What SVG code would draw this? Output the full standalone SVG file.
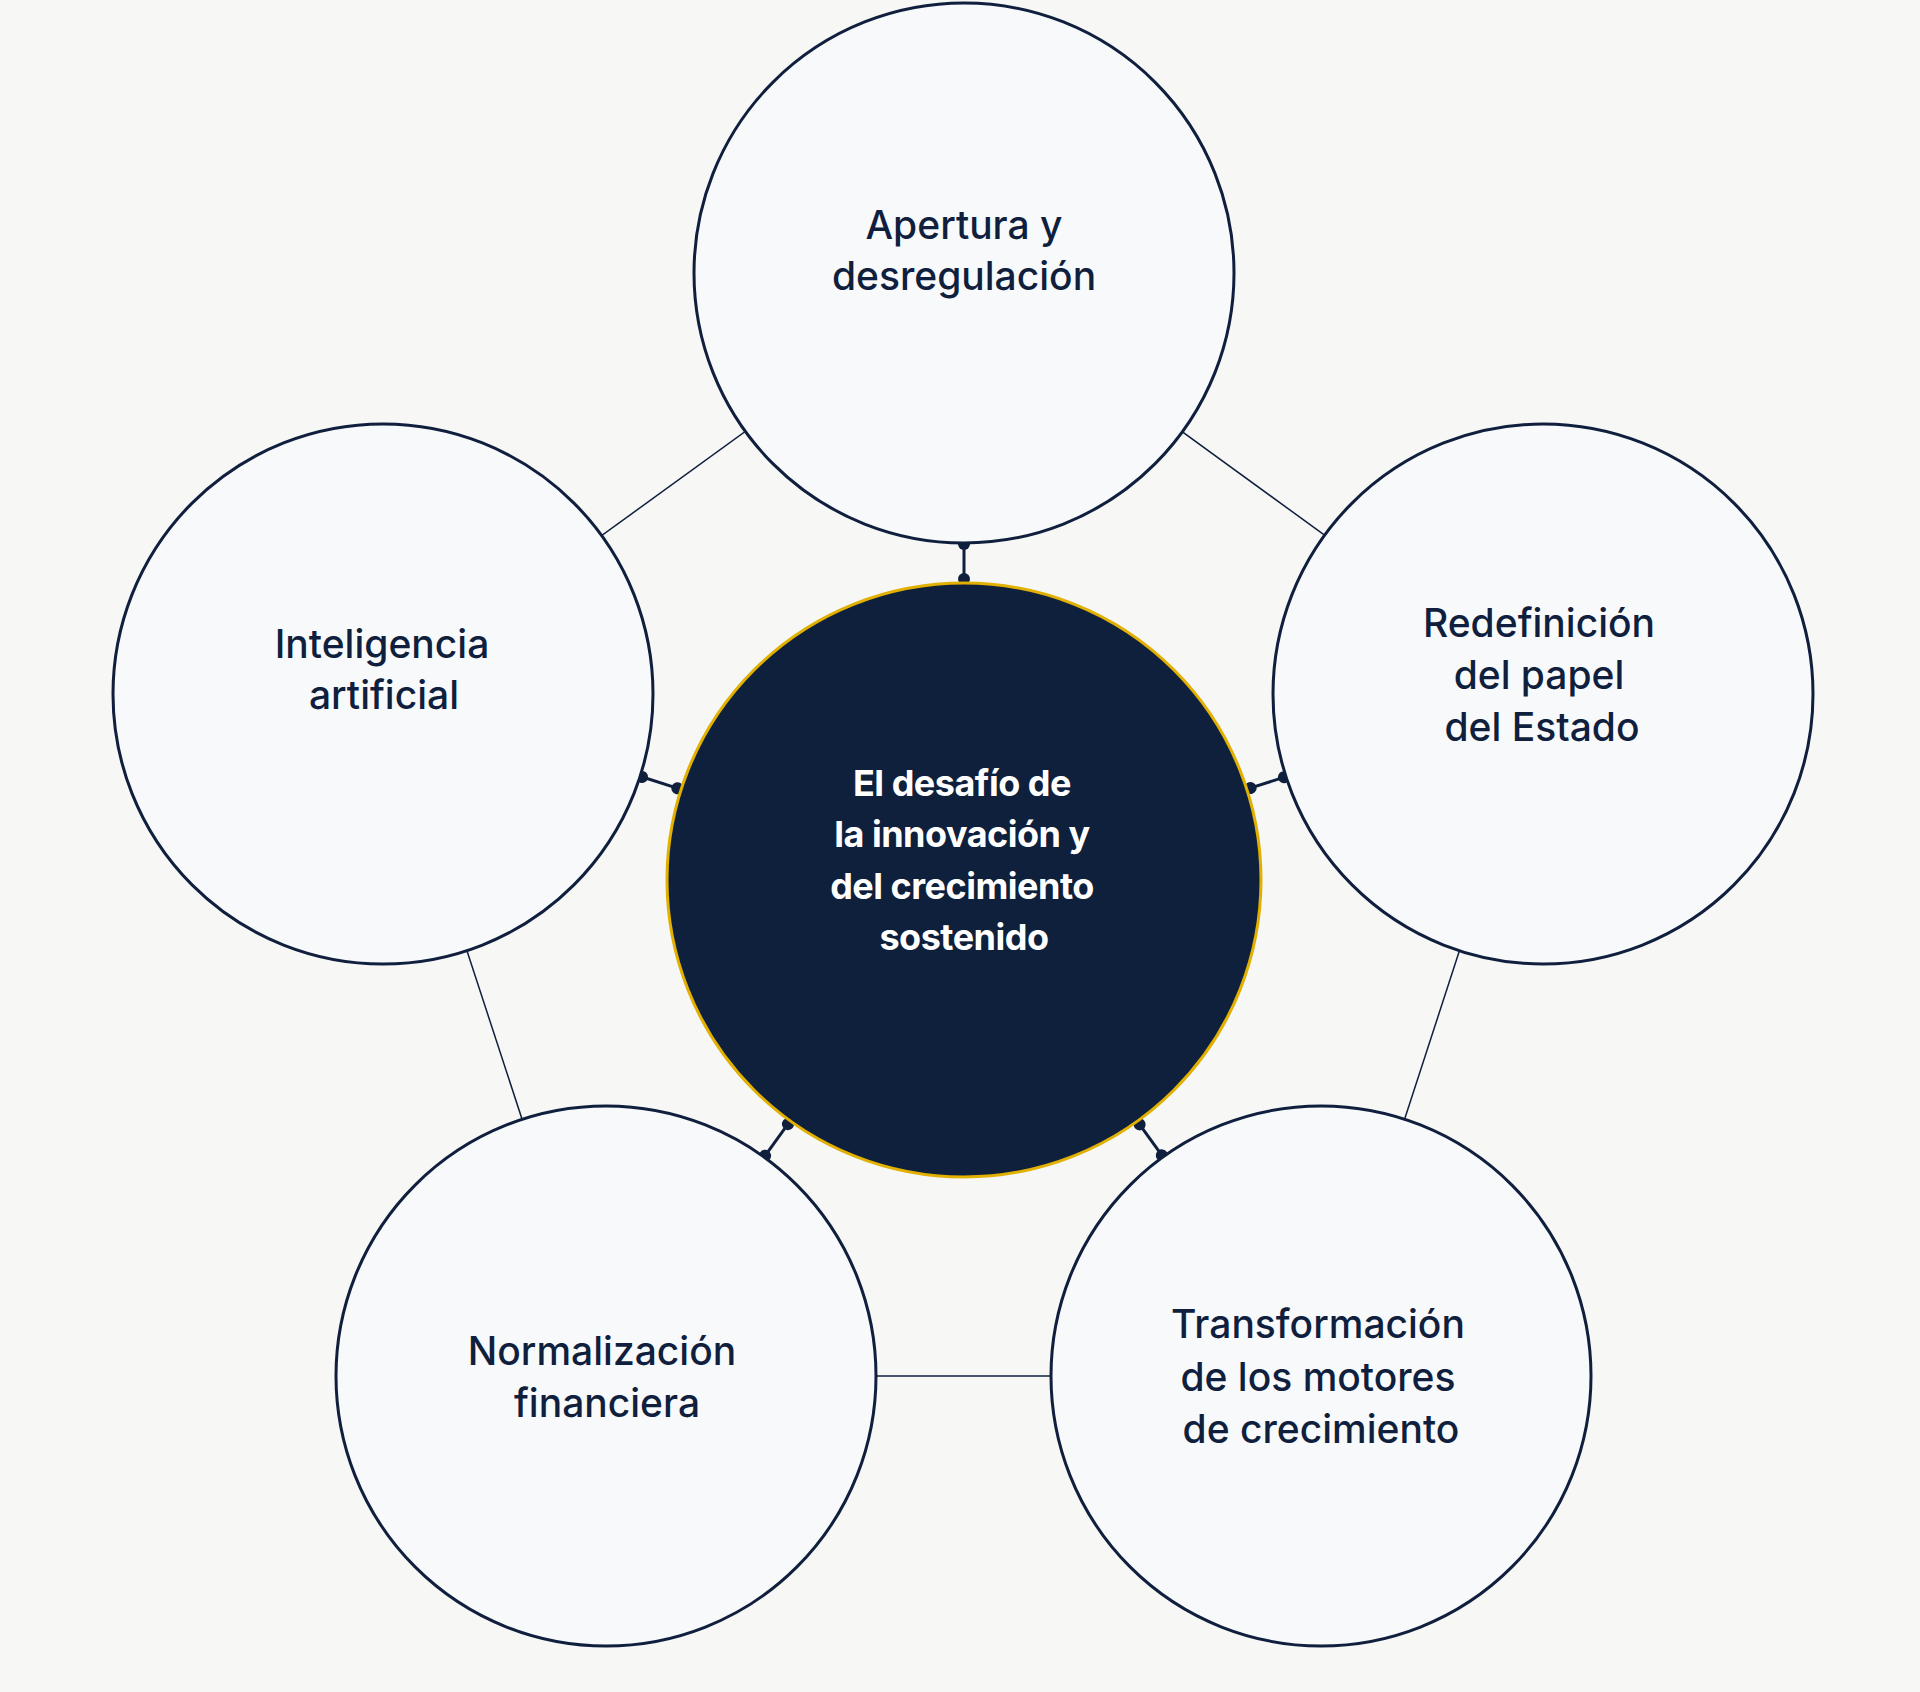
<svg xmlns="http://www.w3.org/2000/svg" width="1920" height="1692" viewBox="0 0 1920 1692">
<style>
.n{fill:#f8f9fb;stroke:#0f1f3d;stroke-width:3}
.t{font-family:"Inter","Liberation Sans",sans-serif;font-size:39px;font-weight:500;fill:#0f1f3d;text-anchor:middle}
.c{font-family:"Inter","Liberation Sans",sans-serif;font-size:36px;font-weight:700;fill:#fff;text-anchor:middle;letter-spacing:-0.5px}
.e{stroke:#0f1f3d;stroke-width:1.5;fill:none}
.k line{stroke:#0f1f3d;stroke-width:3}
.k circle{fill:#0f1f3d}
</style>
<rect width="1920" height="1692" fill="#f7f7f5"/>
<g id="connectors">
<line class="e" x1="964" y1="273" x2="383" y2="694"/>
<line class="e" x1="964" y1="273" x2="1543" y2="694"/>
<line class="e" x1="383" y1="694" x2="606" y2="1376"/>
<line class="e" x1="1543" y1="694" x2="1321" y2="1376"/>
<line class="e" x1="606" y1="1376" x2="1321" y2="1376"/>
<g class="k" transform="translate(964,880)">
<g transform="rotate(-90)"><line x1="298" y1="0" x2="339" y2="0"/><circle cx="301" cy="0" r="6"/><circle cx="336" cy="0" r="6"/></g>
<g transform="rotate(-162.25)"><line x1="298" y1="0" x2="341" y2="0"/><circle cx="301" cy="0" r="6"/><circle cx="338" cy="0" r="6"/></g>
<g transform="rotate(-17.8)"><line x1="298" y1="0" x2="339" y2="0"/><circle cx="301" cy="0" r="6"/><circle cx="336" cy="0" r="6"/></g>
<g transform="rotate(125.8)"><line x1="298" y1="0" x2="343" y2="0"/><circle cx="301" cy="0" r="6"/><circle cx="340" cy="0" r="6"/></g>
<g transform="rotate(54.3)"><line x1="298" y1="0" x2="342" y2="0"/><circle cx="301" cy="0" r="6"/><circle cx="339" cy="0" r="6"/></g>
</g>
</g>
<g id="top"><circle class="n" cx="964" cy="273" r="270"/>
<text class="t" x="964" y="239">Apertura y</text><text class="t" x="964" y="290">desregulación</text></g>
<g id="left"><circle class="n" cx="383" cy="694" r="270"/>
<text class="t" x="382" y="658">Inteligencia</text><text class="t" x="384" y="709">artificial</text></g>
<g id="right"><circle class="n" cx="1543" cy="694" r="270"/>
<text class="t" x="1539" y="637">Redefinición</text><text class="t" x="1539" y="689">del papel</text><text class="t" x="1542" y="741">del Estado</text></g>
<g id="bottomleft"><circle class="n" cx="606" cy="1376" r="270"/>
<text class="t" x="602" y="1365">Normalización</text><text class="t" x="607" y="1417">financiera</text></g>
<g id="bottomright"><circle class="n" cx="1321" cy="1376" r="270"/>
<text class="t" x="1318" y="1338">Transformación</text><text class="t" x="1318" y="1391">de los motores</text><text class="t" x="1321" y="1443">de crecimiento</text></g>
<g id="center"><circle cx="964" cy="880" r="297" fill="#0f203c" stroke="#e2b000" stroke-width="3"/>
<text class="c" x="962" y="796">El desafío de</text><text class="c" x="962" y="847">la innovación y</text><text class="c" x="962" y="899">del crecimiento</text><text class="c" x="964" y="950">sostenido</text></g>
</svg>
